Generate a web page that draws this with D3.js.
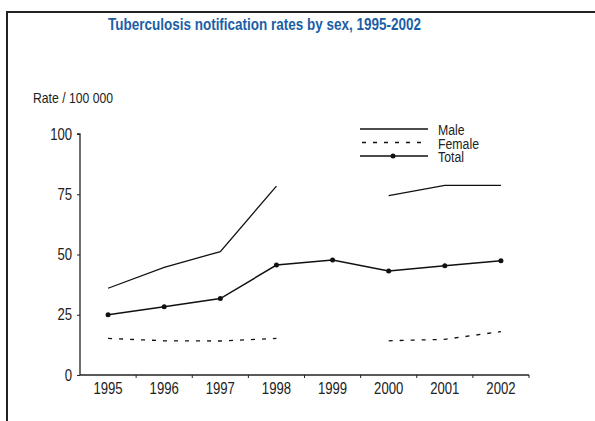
<!DOCTYPE html>
<meta charset="utf-8">
<html>
<head><title>Tuberculosis notification rates</title></head>
<style>
body { margin: 0; background: #fff; }
text { font-family: "Liberation Sans", Arial, sans-serif; }
</style>
<body>
<script src="https://d3js.org/d3.v7.min.js"></script>
<svg id="chart" width="595" height="421"></svg>
<script>

// data (null = no value that year)
var years = ["1995", "1996", "1997", "1998", "1999", "2000", "2001", "2002"];
var male = [36, 44.7, 51.2, 78.4, null, 74.4, 78.7, 78.7];
var female = [15.2, 14.2, 14.1, 15.2, null, 14.2, 14.8, 18.0];
var total = [25.0, 28.3, 31.7, 45.6, 47.7, 43.2, 45.3, 47.4];
var yTicks = [0, 25, 50, 75, 100];

var narrow = 0.82; // squeeze Liberation Sans to look like a condensed face

var svg = d3.select("#chart");

// frame (top and left edges only)
svg.append("path")
  .attr("d", "M7,421V12H595")
  .attr("fill", "none")
  .attr("stroke", "#222")
  .attr("stroke-width", 2);

svg.append("text")
  .attr("x", 108).attr("y", 30)
  .attr("fill", "#1b5ea6")
  .attr("textLength", 313)
  .attr("lengthAdjust", "spacingAndGlyphs")
  .style("font-size", "16px")
  .style("font-weight", "bold")
  .text("Tuberculosis notification rates by sex, 1995-2002");

svg.append("text")
  .attr("x", 33).attr("y", 102.5)
  .attr("fill", "#222")
  .attr("textLength", 80)
  .attr("lengthAdjust", "spacingAndGlyphs")
  .style("font-size", "14.5px")
  .text("Rate / 100 000");

var x = d3.scaleBand().domain(years).range([80, 529]);
var y = d3.scaleLinear().domain([0, 100]).range([375, 134]);

// axes
var xAxis = svg.append("g")
  .attr("transform", "translate(0,375)")
  .call(d3.axisBottom(x).tickSize(0).tickPadding(8));
xAxis.select(".domain").remove();
xAxis.append("path")
  .attr("d", "M80,0H529")
  .attr("stroke", "#222").attr("stroke-width", 1.3);
xAxis.selectAll(".sep")
  .data(years.slice(1).concat(["end"]))
  .enter().append("line")
  .attr("x1", function(d) { return d === "end" ? 529 : x(d); })
  .attr("x2", function(d) { return d === "end" ? 529 : x(d); })
  .attr("y1", 0).attr("y2", 3)
  .attr("stroke", "#222");
xAxis.selectAll(".tick text")
  .attr("fill", "#222")
  .attr("transform", "scale(" + narrow + ",1)")
  .style("font-size", "16px");

var yAxis = svg.append("g")
  .attr("transform", "translate(80,0)")
  .call(d3.axisLeft(y).tickValues(yTicks).tickSize(3).tickPadding(5));
yAxis.select(".domain").attr("stroke", "#222").attr("stroke-width", 1.3)
  .attr("d", "M-3,134H0V375");
yAxis.selectAll(".tick line").attr("stroke", "#222");
yAxis.selectAll(".tick text")
  .attr("fill", "#222")
  .attr("x", -8 / narrow)
  .attr("transform", "scale(" + narrow + ",1)")
  .style("font-size", "16px");

// series
var line = d3.line()
  .defined(function(d) { return d != null; })
  .x(function(d, i) { return x(years[i]) + x.bandwidth() / 2; })
  .y(function(d) { return y(d); });

svg.append("path").datum(male)
  .attr("d", line)
  .attr("fill", "none").attr("stroke", "#111").attr("stroke-width", 1.3);

svg.append("path").datum(female)
  .attr("d", line)
  .attr("fill", "none").attr("stroke", "#111").attr("stroke-width", 1.3)
  .attr("stroke-dasharray", "4,7");

svg.append("path").datum(total)
  .attr("d", line)
  .attr("fill", "none").attr("stroke", "#111").attr("stroke-width", 1.5);

svg.selectAll(".dot")
  .data(total)
  .enter().append("circle")
  .attr("cx", function(d, i) { return x(years[i]) + x.bandwidth() / 2; })
  .attr("cy", function(d) { return y(d); })
  .attr("r", 2.5)
  .attr("fill", "#111");

// legend
var legendItems = [
  {name: "Male", dash: null, dot: false},
  {name: "Female", dash: "4,7", dot: false},
  {name: "Total", dash: null, dot: true}
];
var lg = svg.selectAll(".legend")
  .data(legendItems)
  .enter().append("g")
  .attr("transform", function(d, i) { return "translate(360," + (129 + i * 13.5) + ")"; });
lg.append("line")
  .attr("x1", function(d) { return d.dash ? 2 : 0; }).attr("x2", 68)
  .attr("stroke", "#111").attr("stroke-width", 1.3)
  .attr("stroke-dasharray", function(d) { return d.dash; });
lg.filter(function(d) { return d.dot; }).append("circle")
  .attr("cx", 33).attr("r", 2.5).attr("fill", "#111");
lg.append("text")
  .attr("x", 78 / narrow).attr("y", 6)
  .attr("transform", "scale(" + narrow + ",1)")
  .attr("fill", "#222")
  .style("font-size", "15px")
  .text(function(d) { return d.name; });

</script>
</body>
</html>
